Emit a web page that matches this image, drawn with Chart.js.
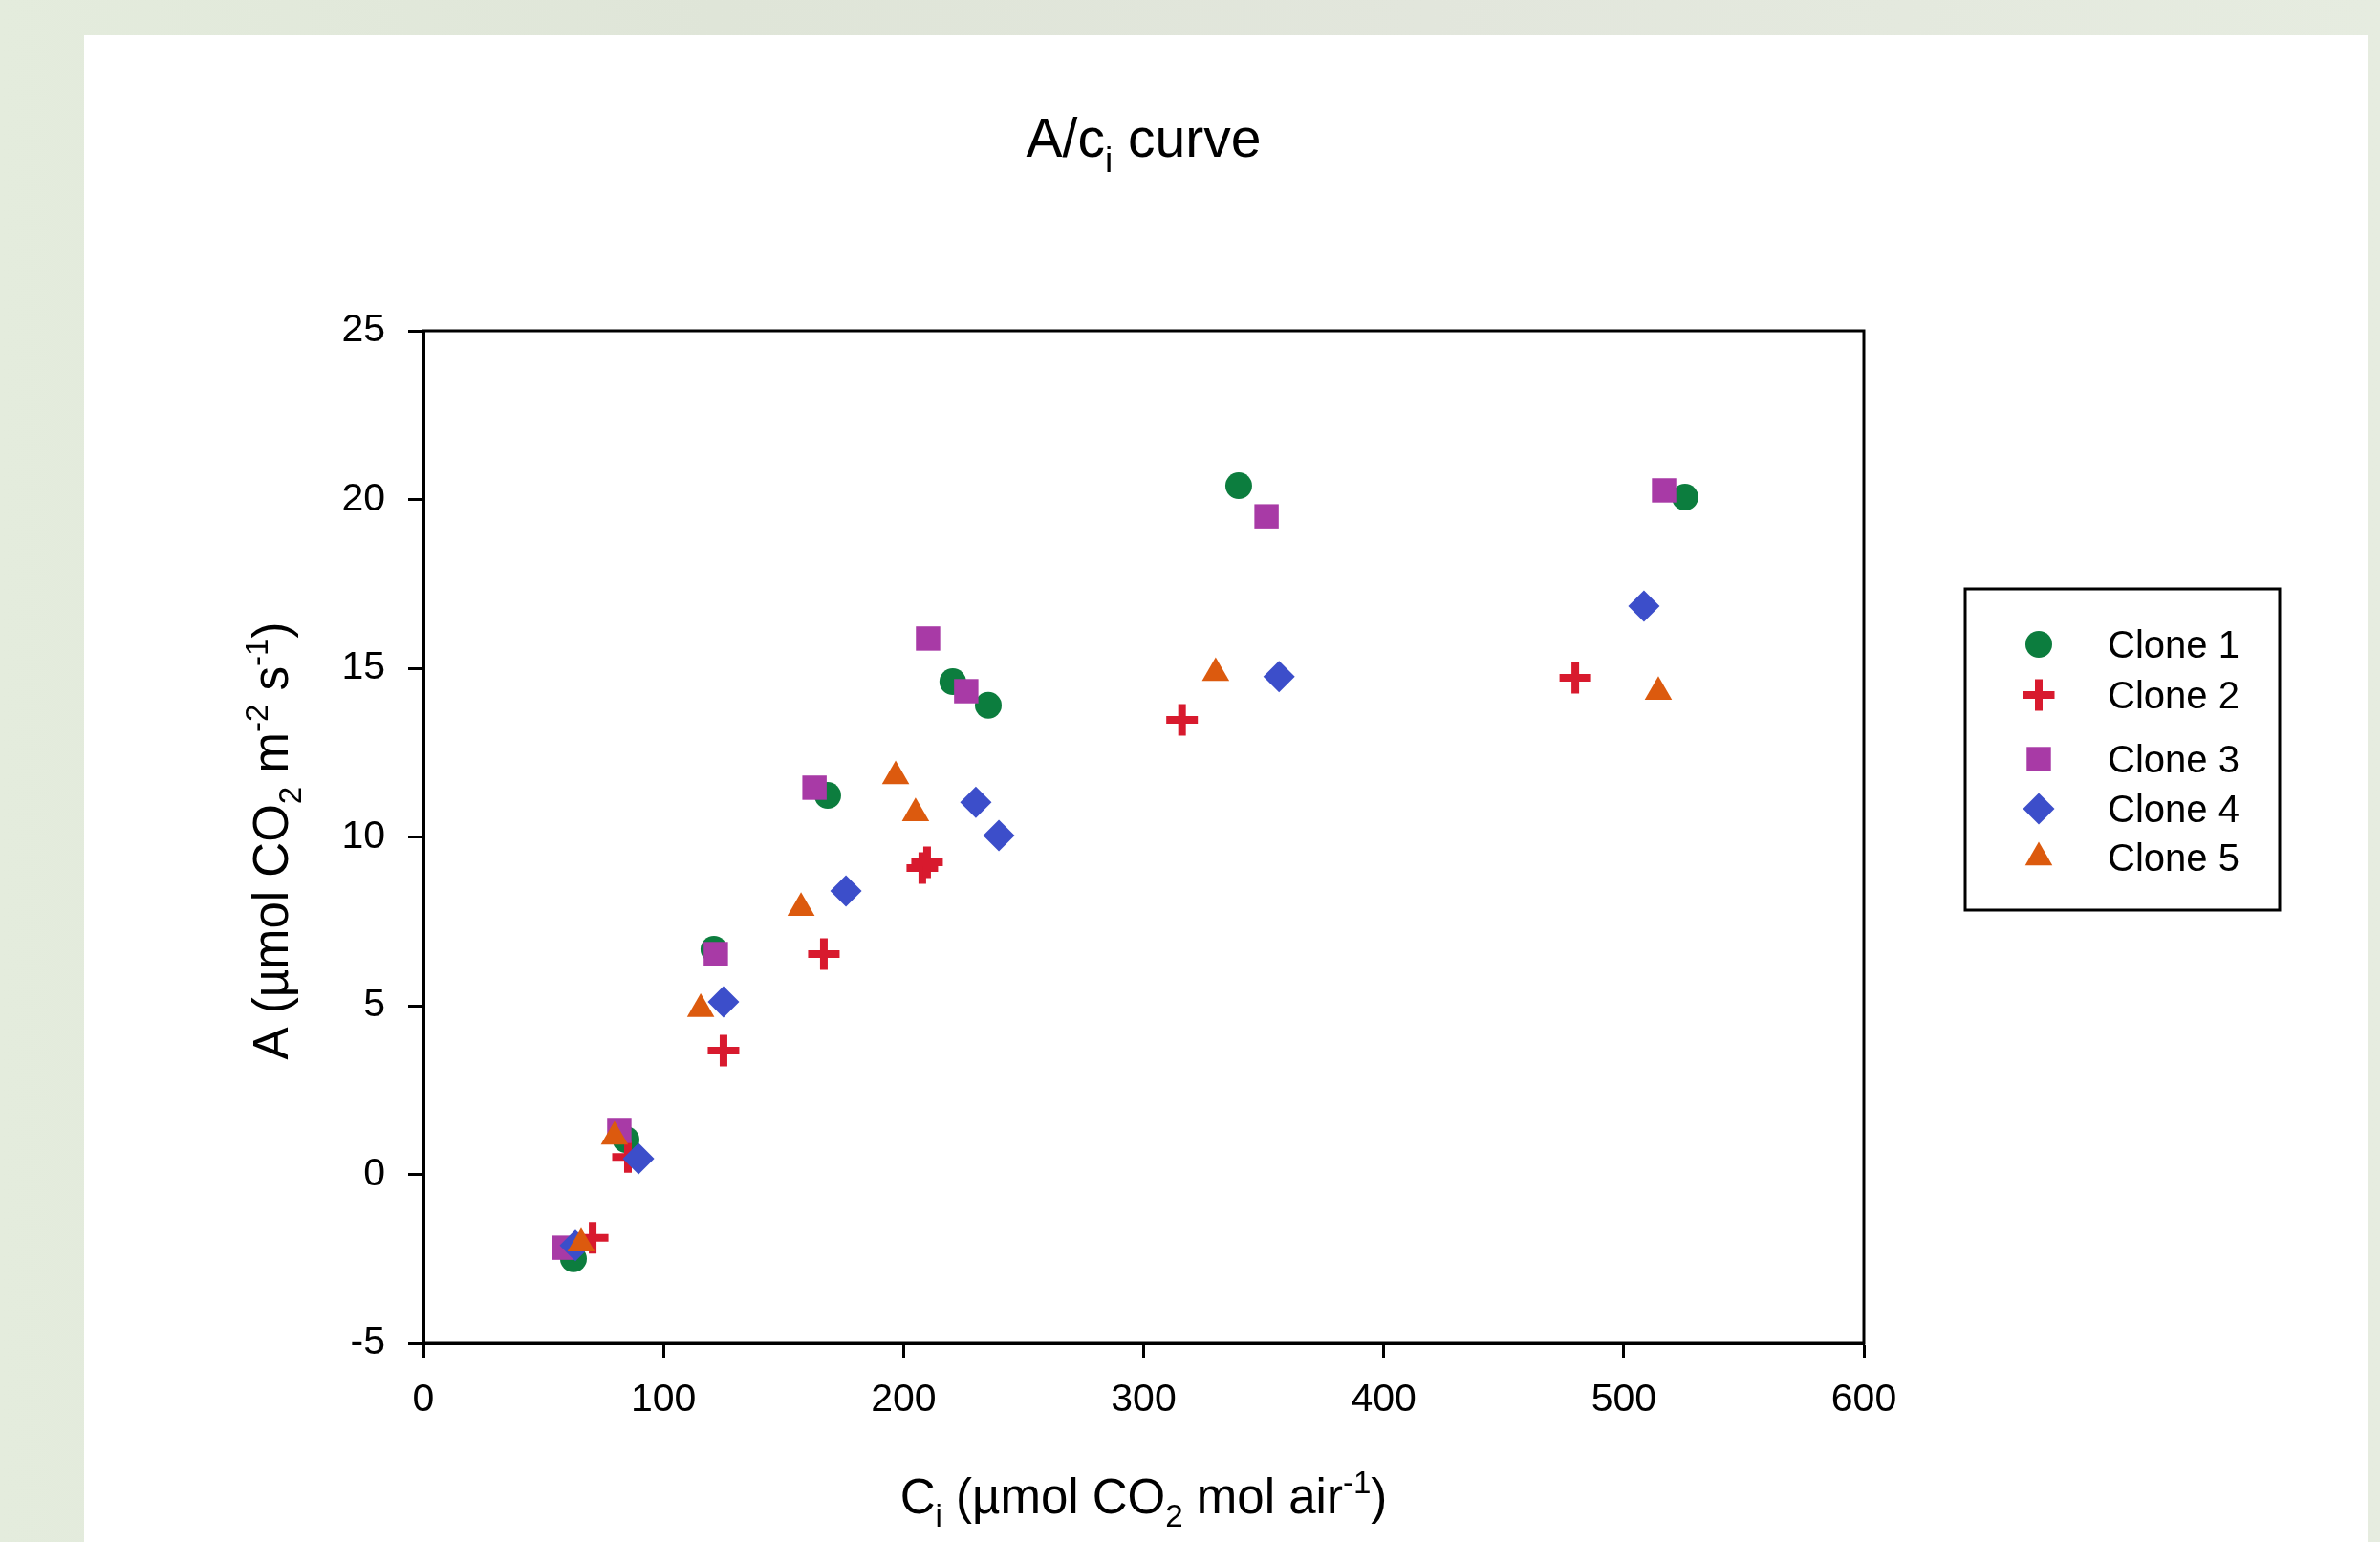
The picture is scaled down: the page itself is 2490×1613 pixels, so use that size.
<!DOCTYPE html>
<html>
<head>
<meta charset="utf-8">
<title>A/ci curve</title>
<script src="https://cdn.jsdelivr.net/npm/chart.js@4.4.1/dist/chart.umd.min.js"></script>
<style>
  html, body { margin: 0; padding: 0; }
  body {
    width: 2490px; height: 1613px; overflow: hidden; position: relative;
    background: linear-gradient(90deg, #e4ecdd 0%, #dfe5d8 30%, #e2e6dc 60%, #e6ece0 100%);
  }
  #card {
    position: absolute; left: 88px; top: 37px; width: 2389px; height: 1576px;
    background: #ffffff;
  }
  canvas { display: block; }
</style>
</head>
<body>
<div id="card"><canvas id="aciChart" width="2389" height="1576"></canvas></div>
<script>
// values
const seriesNames = ['Clone 1', 'Clone 2', 'Clone 3', 'Clone 4', 'Clone 5'];

const clone1X = [62.5, 84.4, 121, 168.4, 220.5, 235.3, 339.6, 525.5];
const clone1Y = [-2.5, 1.03, 6.67, 11.23, 14.6, 13.9, 20.41, 20.07];

const clone2X = [70.5, 85.2, 125, 166.8, 207.8, 209.8, 316, 479.8];
const clone2Y = [-1.88, 0.52, 3.67, 6.53, 9.08, 9.25, 13.47, 14.72];

const clone3X = [58.5, 81.6, 121.8, 162.9, 210.2, 226.1, 351.2, 516.8];
const clone3Y = [-2.17, 1.29, 6.53, 11.46, 15.88, 14.32, 19.5, 20.27];

const clone4X = [63.3, 89.6, 125, 176, 230.1, 239.7, 356.4, 508.4];
const clone4Y = [-2.1, 0.47, 5.11, 8.4, 11.03, 10.04, 14.75, 16.84];

const clone5X = [65.7, 79.6, 115.5, 157.3, 196.7, 205, 330, 514.4];
const clone5Y = [-2.05, 1.12, 4.9, 7.9, 11.8, 10.7, 14.86, 14.3];

const xTicks = [0, 100, 200, 300, 400, 500, 600];
const yTicks = [-5, 0, 5, 10, 15, 20, 25];

// text pieces: [text, 'sub' | 'sup' | '']
const titleParts = [['A/c', ''], ['i', 'sub'], [' curve', '']];
const xTitleParts = [['C', ''], ['i', 'sub'], [' (\u00b5mol CO', ''], ['2', 'sub'], [' mol air', ''], ['-1', 'sup'], [')', '']];
const yTitleParts = [['A (\u00b5mol CO', ''], ['2', 'sub'], [' m', ''], ['-2', 'sup'], [' s', ''], ['-1', 'sup'], [')', '']];

const FONT = '"Liberation Sans", Arial, Helvetica, sans-serif';

const styles = [
  { color: 'rgb(12,125,62)',  pointStyle: 'circle',   radius: 14,   borderWidth: 0 },
  { color: 'rgb(216,26,46)',  pointStyle: 'cross',    radius: 16.5, borderWidth: 8 },
  { color: 'rgb(168,58,166)', pointStyle: 'rect',     radius: 18,   borderWidth: 0 },
  { color: 'rgb(60,78,202)',  pointStyle: 'rectRot',  radius: 16.5, borderWidth: 0 },
  { color: 'rgb(220,90,14)',  pointStyle: 'triangle', radius: 16.5, borderWidth: 0 }
];

function toPoints(xs, ys) {
  return xs.map((x, i) => ({ x: x, y: ys[i] }));
}

const allX = [clone1X, clone2X, clone3X, clone4X, clone5X];
const allY = [clone1Y, clone2Y, clone3Y, clone4Y, clone5Y];

const datasets = seriesNames.map((name, i) => ({
  label: name,
  data: toPoints(allX[i], allY[i]),
  order: seriesNames.length - i,
  pointStyle: styles[i].pointStyle,
  pointRadius: styles[i].radius,
  pointHoverRadius: styles[i].radius,
  pointBackgroundColor: styles[i].color,
  pointBorderColor: styles[i].color,
  pointBorderWidth: styles[i].borderWidth,
  showLine: false
}));

function drawRich(ctx, parts, size, x, y, angle) {
  const small = size * 0.65;
  let total = 0;
  parts.forEach(p => {
    ctx.font = (p[1] ? small : size) + 'px ' + FONT;
    total += ctx.measureText(p[0]).width;
  });
  ctx.save();
  ctx.translate(x, y);
  ctx.rotate(angle || 0);
  ctx.fillStyle = '#000';
  ctx.textBaseline = 'alphabetic';
  ctx.textAlign = 'left';
  let cx = -total / 2;
  parts.forEach(p => {
    ctx.font = (p[1] ? small : size) + 'px ' + FONT;
    let dy = 0;
    if (p[1] === 'sub') dy = size * 0.28;
    if (p[1] === 'sup') dy = -size * 0.42;
    ctx.fillText(p[0], cx, dy);
    cx += ctx.measureText(p[0]).width;
  });
  ctx.restore();
}

const decorations = {
  id: 'decorations',
  afterDraw(chart) {
    const ctx = chart.ctx;
    const a = chart.chartArea;

    // frame round the plot
    ctx.save();
    ctx.strokeStyle = '#000';
    ctx.lineWidth = 3;
    ctx.strokeRect(a.left, a.top, a.right - a.left, a.bottom - a.top);
    ctx.restore();

    const mid = (a.left + a.right) / 2;
    drawRich(ctx, titleParts, 57, mid, 127, 0);
    drawRich(ctx, xTitleParts, 51, mid, 1546, 0);
    drawRich(ctx, yTitleParts, 51, 213, (a.top + a.bottom) / 2 + 4, -Math.PI / 2);

    // legend box
    const box = { left: 1968, top: 579, right: 2297, bottom: 915 };
    const rows = [637, 690, 757, 809, 860];
    ctx.save();
    ctx.strokeStyle = '#000';
    ctx.lineWidth = 3;
    ctx.strokeRect(box.left, box.top, box.right - box.left, box.bottom - box.top);
    seriesNames.forEach((name, i) => {
      const s = styles[i];
      ctx.fillStyle = s.color;
      ctx.strokeStyle = s.color;
      ctx.lineWidth = s.borderWidth;
      Chart.helpers.drawPoint(ctx, {
        pointStyle: s.pointStyle, radius: s.radius, rotation: 0, borderWidth: s.borderWidth
      }, 2045, rows[i]);
      ctx.fillStyle = '#000';
      ctx.font = '40px ' + FONT;
      ctx.textBaseline = 'middle';
      ctx.textAlign = 'left';
      ctx.fillText(name, 2117, rows[i] + 3);
    });
    ctx.restore();
  }
};

const ctx = document.getElementById('aciChart').getContext('2d');

new Chart(ctx, {
  type: 'scatter',
  data: { datasets: datasets },
  options: {
    responsive: false,
    animation: false,
    devicePixelRatio: 1,
    layout: { padding: { top: 309, right: 527, left: 0, bottom: 0 } },
    plugins: {
      legend: { display: false },
      title: { display: false },
      tooltip: { enabled: false }
    },
    scales: {
      x: {
        type: 'linear',
        min: xTicks[0],
        max: xTicks[xTicks.length - 1],
        afterBuildTicks(scale) { scale.ticks = xTicks.map(v => ({ value: v })); },
        afterFit(scale) { scale.height = 208; },
        ticks: { color: '#000', padding: 19, font: { size: 41, family: FONT }, maxRotation: 0 },
        grid: { drawOnChartArea: false, drawTicks: true, tickLength: 16, tickWidth: 3, tickColor: '#000' },
        border: { display: true, color: '#000', width: 3 }
      },
      y: {
        type: 'linear',
        min: yTicks[0],
        max: yTicks[yTicks.length - 1],
        afterBuildTicks(scale) { scale.ticks = yTicks.map(v => ({ value: v })); },
        afterFit(scale) { scale.width = 355; },
        ticks: { color: '#000', padding: 24, font: { size: 41, family: FONT } },
        grid: { drawOnChartArea: false, drawTicks: true, tickLength: 16, tickWidth: 3, tickColor: '#000' },
        border: { display: true, color: '#000', width: 3 }
      }
    }
  },
  plugins: [decorations]
});
</script>
</body>
</html>
